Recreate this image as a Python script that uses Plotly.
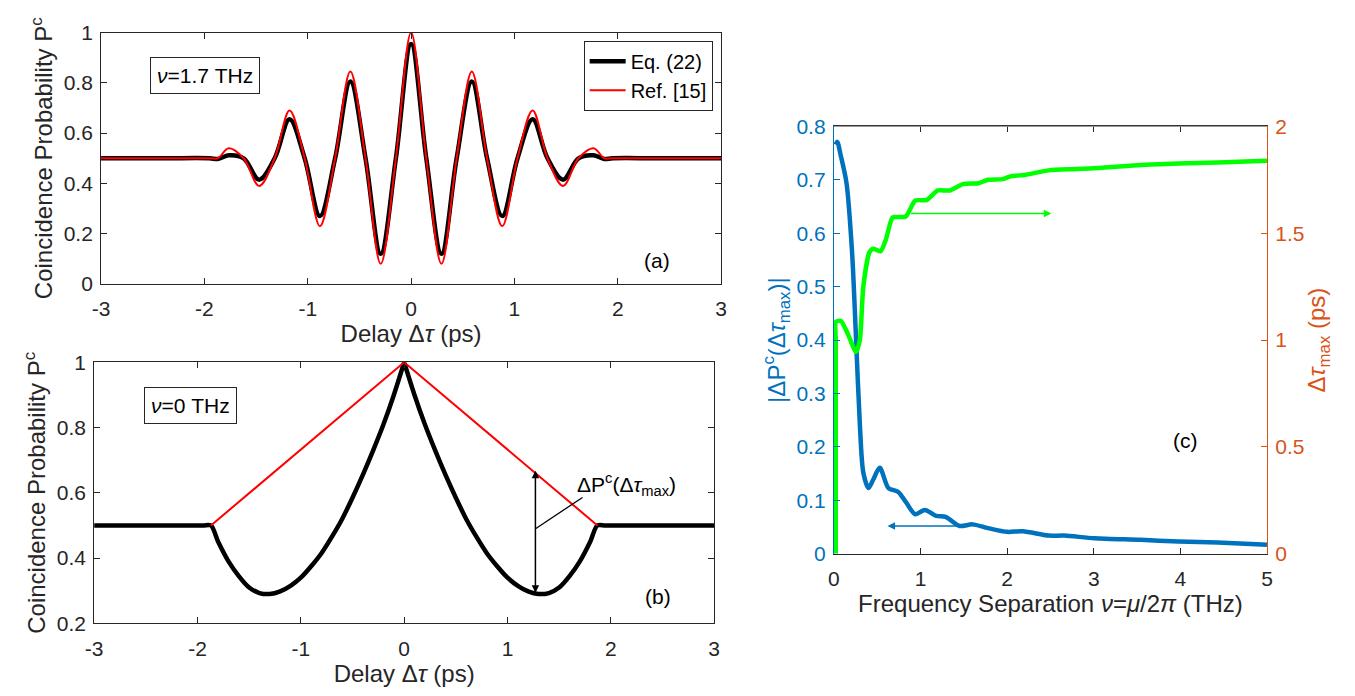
import plotly.graph_objects as go

# ---------------- data ----------------
# panel (a): nu = 1.7 THz
tau_a = [-3, -2.4, -1.95, -1.87, -1.765, -1.62, -1.47, -1.32, -1.176, -1.03, -0.882, -0.735,
         -0.588, -0.441, -0.294, -0.147, 0, 0.147, 0.294, 0.441, 0.588, 0.735, 0.882, 1.03,
         1.176, 1.32, 1.47, 1.62, 1.765, 1.87, 1.95, 2.4, 3]
pc_eq22_a = [0.5, 0.5, 0.5, 0.497, 0.512, 0.5, 0.415, 0.5, 0.655, 0.5, 0.27, 0.5,
             0.805, 0.5, 0.12, 0.5, 0.955, 0.5, 0.12, 0.5, 0.805, 0.5, 0.27, 0.5,
             0.655, 0.5, 0.415, 0.5, 0.512, 0.497, 0.5, 0.5, 0.5]
pc_ref15_a = [0.5, 0.5, 0.5, 0.5, 0.54, 0.5, 0.39, 0.5, 0.69, 0.5, 0.23, 0.5,
              0.845, 0.5, 0.08, 0.5, 1.0, 0.5, 0.08, 0.5, 0.845, 0.5, 0.23, 0.5,
              0.69, 0.5, 0.39, 0.5, 0.54, 0.5, 0.5, 0.5, 0.5]

# panel (b): nu = 0 THz
tau_b = [-3, -2.4, -1.95, -1.87, -1.8, -1.7, -1.6, -1.5, -1.4, -1.3, -1.2, -1.1, -1.0, -0.9,
         -0.8, -0.7, -0.6, -0.5, -0.4, -0.3, -0.2, -0.1, 0,
         0.1, 0.2, 0.3, 0.4, 0.5, 0.6, 0.7, 0.8, 0.9, 1.0, 1.1, 1.2, 1.3, 1.4, 1.5, 1.6,
         1.7, 1.8, 1.87, 1.95, 2.4, 3]
pc_eq22_b = [0.5, 0.5, 0.5, 0.5, 0.45, 0.39, 0.345, 0.31, 0.293, 0.29, 0.298, 0.315, 0.34, 0.375,
             0.415, 0.465, 0.52, 0.585, 0.655, 0.73, 0.81, 0.9, 1.0,
             0.9, 0.81, 0.73, 0.655, 0.585, 0.52, 0.465, 0.415, 0.375, 0.34, 0.315, 0.298, 0.29,
             0.293, 0.31, 0.345, 0.39, 0.45, 0.5, 0.5, 0.5, 0.5]
tau_ref_b = [-1.87, 0, 1.87]
pc_ref15_b = [0.5, 1.0, 0.5]

# panel (c)
nu_blue = [0.022, 0.04, 0.08, 0.146, 0.21, 0.256, 0.30, 0.34, 0.40, 0.455, 0.53, 0.63, 0.74, 0.83,
           0.94, 1.05, 1.18, 1.29, 1.45, 1.6, 1.78, 2.0, 2.18, 2.48, 2.66, 3.01, 3.54, 3.98,
           4.43, 5.0]
dpc = [0.766, 0.771, 0.745, 0.694, 0.565, 0.403, 0.242, 0.152, 0.123, 0.139, 0.161, 0.123, 0.116,
       0.097, 0.074, 0.082, 0.071, 0.069, 0.052, 0.055, 0.048, 0.041, 0.042, 0.034, 0.034, 0.029,
       0.026, 0.023, 0.021, 0.017]
nu_green = [0.022, 0.022, 0.022, 0.023, 0.08, 0.16, 0.256, 0.30, 0.34, 0.41, 0.455, 0.54, 0.6,
            0.675, 0.72, 0.83, 0.94, 1.07, 1.2, 1.34, 1.49, 1.67, 1.78, 1.95, 2.04, 2.22, 2.48,
            2.8, 3.1, 3.54, 3.98, 4.43, 5.0]
dtau_max = [0, 0.5, 1.0, 1.085, 1.09, 1.03, 0.944, 1.0, 1.25, 1.41, 1.427, 1.415, 1.47, 1.573,
            1.576, 1.578, 1.653, 1.655, 1.70, 1.70, 1.73, 1.734, 1.75, 1.753, 1.766, 1.774,
            1.794, 1.80, 1.806, 1.819, 1.826, 1.831, 1.839]

delay_ticks = [-3, -2, -1, 0, 1, 2, 3]
delay_ticktext = ["-3", "-2", "-1", "0", "1", "2", "3"]

# ---------------- figure ----------------
W, H = 1355, 696
FONT = "Liberation Sans, Arial, sans-serif"
AX = "#262626"
BLUE = "#0072BD"
ORANGE = "#D95319"
GREEN = "#00FF00"
TICK = 21
TITLE = 24

fig = go.Figure()

fig.add_trace(go.Scatter(x=tau_a, y=pc_eq22_a, mode="lines", name="Eq. (22)",
                         line=dict(color="black", width=4.5, shape="spline", smoothing=1),
                         xaxis="x", yaxis="y"))
fig.add_trace(go.Scatter(x=tau_a, y=pc_ref15_a, mode="lines", name="Ref. [15]",
                         line=dict(color="#FF0000", width=2, shape="spline", smoothing=1),
                         xaxis="x", yaxis="y"))

mid = tau_b.index(0)
fig.add_trace(go.Scatter(x=tau_b[:mid + 1], y=pc_eq22_b[:mid + 1], mode="lines", showlegend=False,
                         line=dict(color="black", width=4.5, shape="spline", smoothing=0.8),
                         xaxis="x2", yaxis="y2"))
fig.add_trace(go.Scatter(x=tau_b[mid:], y=pc_eq22_b[mid:], mode="lines", showlegend=False,
                         line=dict(color="black", width=4.5, shape="spline", smoothing=0.8),
                         xaxis="x2", yaxis="y2"))
fig.add_trace(go.Scatter(x=tau_ref_b, y=pc_ref15_b, mode="lines", showlegend=False,
                         line=dict(color="#FF0000", width=2),
                         xaxis="x2", yaxis="y2"))

fig.add_trace(go.Scatter(x=nu_blue, y=dpc, mode="lines", showlegend=False,
                         line=dict(color=BLUE, width=4.5, shape="spline", smoothing=0.8),
                         xaxis="x3", yaxis="y3"))
fig.add_trace(go.Scatter(x=nu_green, y=dtau_max, mode="lines", showlegend=False,
                         line=dict(color=GREEN, width=4.5, shape="spline", smoothing=0.6),
                         xaxis="x3", yaxis="y4"))

def px_x(p):
    return p / W

def px_y(p):
    return 1 - p / H

common = dict(showline=True, linecolor=AX, linewidth=1, mirror="ticks", ticks="inside",
              ticklen=6, tickcolor=AX, showgrid=False, zeroline=False,
              tickfont=dict(family=FONT, size=TICK, color=AX))

def ttl(text, color=AX, standoff=6):
    return dict(text=text, standoff=standoff, font=dict(family=FONT, size=TITLE, color=color))

fig.update_layout(
    width=W, height=H, margin=dict(l=0, r=0, t=0, b=0),
    paper_bgcolor="white", plot_bgcolor="white",
    font=dict(family=FONT, size=TICK, color=AX),
    xaxis=dict(domain=[px_x(85), px_x(712)], range=[-3, 3], tickvals=delay_ticks,
               ticktext=delay_ticktext, anchor="y", ticklabelstandoff=6,
               title=ttl("Delay Δ<i>τ</i> (ps)", standoff=2), **common),
    yaxis=dict(domain=[px_y(273), px_y(13)], range=[0, 1], dtick=0.2, anchor="x",
               ticklabelstandoff=3,
               title=ttl("Coincidence Probability P<sup>c</sup>", standoff=4), **common),
    xaxis2=dict(domain=[px_x(78), px_x(705)], range=[-3, 3], tickvals=delay_ticks,
                ticktext=delay_ticktext, anchor="y2", ticklabelstandoff=6,
                title=ttl("Delay Δ<i>τ</i> (ps)", standoff=6), **common),
    yaxis2=dict(domain=[px_y(624), px_y(354)], range=[0.2, 1], dtick=0.2, anchor="x2",
                ticklabelstandoff=3,
                title=ttl("Coincidence Probability P<sup>c</sup>", standoff=4), **common),
    xaxis3=dict(domain=[px_x(826), px_x(1264)], range=[0, 5], dtick=1, anchor="y3",
                ticklabelstandoff=6,
                title=ttl("Frequency Separation <i>ν</i>=<i>μ</i>/2<i>π</i> (THz)", standoff=4),
                **common),
    yaxis3=dict(domain=[px_y(552), px_y(110)], range=[0, 0.8], dtick=0.1, anchor="x3",
                showline=True, linecolor=BLUE, linewidth=1, ticks="inside", ticklen=6,
                tickcolor=BLUE, showgrid=False, zeroline=False, ticklabelstandoff=3,
                tickfont=dict(family=FONT, size=TICK, color=BLUE),
                title=ttl("|ΔP<sup>c</sup>(Δ<i>τ</i><sub>max</sub>)|", color=BLUE, standoff=4)),
    yaxis4=dict(domain=[px_y(552), px_y(110)], range=[0, 2], dtick=0.5, anchor="x3",
                overlaying="y3", side="right",
                showline=True, linecolor=ORANGE, linewidth=1, ticks="inside", ticklen=6,
                tickcolor=ORANGE, showgrid=False, zeroline=False, ticklabelstandoff=3,
                tickfont=dict(family=FONT, size=TICK, color=ORANGE),
                title=ttl("Δ<i>τ</i><sub>max</sub> (ps)", color=ORANGE, standoff=4)),
    legend=dict(x=px_x(573), y=px_y(21.5), xanchor="left", yanchor="top",
                bgcolor="white", bordercolor=AX, borderwidth=1,
                font=dict(family=FONT, size=20, color="black"),
                itemwidth=36, tracegroupgap=0),
)

ann = []
ann.append(dict(x=-1.99, y=0.831, xref="x", yref="y", text="<i>ν</i>=1.7 THz", showarrow=False,
                font=dict(family=FONT, size=21, color="black"),
                bordercolor=AX, borderwidth=1, borderpad=6, bgcolor="white"))
ann.append(dict(x=2.38, y=0.092, xref="x", yref="y", text="(a)", showarrow=False,
                font=dict(family=FONT, size=21, color="black")))
ann.append(dict(x=-2.07, y=0.868, xref="x2", yref="y2", text="<i>ν</i>=0 THz", showarrow=False,
                font=dict(family=FONT, size=21, color="black"),
                bordercolor=AX, borderwidth=1, borderpad=6, bgcolor="white"))
ann.append(dict(x=2.46, y=0.283, xref="x2", yref="y2", text="(b)", showarrow=False,
                font=dict(family=FONT, size=21, color="black")))
# double arrow
ann.append(dict(x=1.27, y=0.668, ax=1.27, ay=0.289, xref="x2", yref="y2", axref="x2", ayref="y2",
                text="", showarrow=True, arrowhead=2, startarrowhead=2, arrowside="end+start",
                arrowsize=1, arrowwidth=1.5, arrowcolor="black"))
# pointer line
ann.append(dict(x=1.271, y=0.49, ax=1.74, ay=0.589, xref="x2", yref="y2", axref="x2", ayref="y2",
                text="", showarrow=True, arrowhead=0, arrowwidth=1.3, arrowcolor="black"))
ann.append(dict(x=2.15, y=0.627, xref="x2", yref="y2",
                text="ΔP<sup>c</sup>(Δ<i>τ</i><sub>max</sub>)", showarrow=False,
                font=dict(family=FONT, size=21, color="black")))
# panel (c)
ann.append(dict(x=4.06, y=0.212, xref="x3", yref="y3", text="(c)", showarrow=False,
                font=dict(family=FONT, size=21, color="black")))
ann.append(dict(x=2.51, y=1.592, ax=0.874, ay=1.592, xref="x3", yref="y4", axref="x3", ayref="y4",
                text="", showarrow=True, arrowhead=2, arrowsize=1, arrowwidth=1.5,
                arrowcolor=GREEN))
ann.append(dict(x=0.62, y=0.052, ax=1.45, ay=0.052, xref="x3", yref="y3", axref="x3", ayref="y3",
                text="", showarrow=True, arrowhead=2, arrowsize=1, arrowwidth=1.5,
                arrowcolor=BLUE))
fig.update_layout(annotations=ann)

# grey top border of panel (c)
fig.update_layout(shapes=[dict(type="line", xref="x3 domain", yref="y3 domain",
                               x0=0, x1=1, y0=1, y1=1, layer="above",
                               line=dict(color="#8c8c8c", width=1))])

fig.write_html("out.html")
